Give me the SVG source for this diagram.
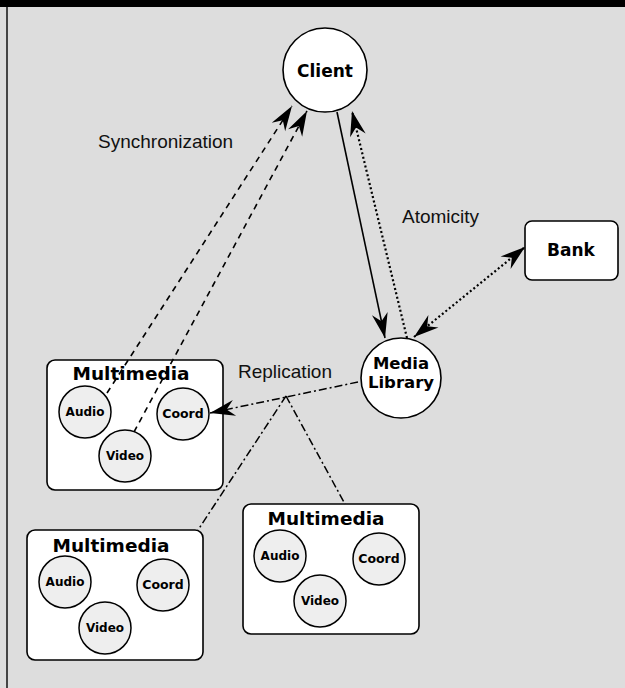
<svg xmlns="http://www.w3.org/2000/svg" width="625" height="688" viewBox="0 0 625 688">
<style>
.bg{fill:#dddddd}
.node{fill:#ffffff;stroke:#000;stroke-width:1.6}
.sub{fill:#eeeeee;stroke:#000;stroke-width:1.5}
.bold{font-family:"DejaVu Sans",sans-serif;font-weight:bold;text-anchor:middle;fill:#000}
.lab{font-family:"Liberation Sans",Arial,sans-serif;font-size:19px;fill:#111}
.c{fill:none;stroke:#000}
.solid{stroke-width:1.6}
.dash{stroke-width:1.6;stroke-dasharray:6 5}
.dot{stroke-width:2.2;stroke-dasharray:2 2.5}
.dashdot{stroke-width:1.5;stroke-dasharray:8 3 2 3}
</style>
<defs>
<marker id="ah" viewBox="-26 -9 27 18" markerWidth="27" markerHeight="18" refX="0" refY="0" markerUnits="userSpaceOnUse" orient="auto-start-reverse">
<path d="M0,0 L-25,-8 L-17,0 L-25,8 Z" fill="#000"/>
</marker>
</defs>
<rect class="bg" x="0" y="0" width="625" height="688"/>
<rect x="0" y="0" width="625" height="7" fill="#000"/>
<line x1="7" y1="7" x2="7" y2="688" stroke="#444" stroke-width="2"/>

<g id="client">
<circle class="node" cx="325" cy="70" r="42"/>
<text class="bold" x="325" y="77" font-size="17">Client</text>
</g>

<g id="bank">
<rect class="node" x="525" y="221" width="93" height="59" rx="7"/>
<text class="bold" x="571" y="256" font-size="17">Bank</text>
</g>

<g id="media-library">
<circle class="node" cx="401" cy="378" r="40"/>
<text class="bold" x="401" y="369" font-size="16.5">Media</text>
<text class="bold" x="401" y="388" font-size="16.5">Library</text>
</g>

<g id="multimedia-1">
<rect class="node" x="47" y="360" width="176" height="130" rx="8"/>
<circle class="sub" cx="85" cy="412" r="26"/>
<circle class="sub" cx="183" cy="414" r="26"/>
<circle class="sub" cx="125" cy="456" r="26"/>
<text class="bold" x="131" y="380" font-size="18.5">Multimedia</text>
<text class="bold" x="85" y="416" font-size="12">Audio</text>
<text class="bold" x="183" y="418" font-size="12.5">Coord</text>
<text class="bold" x="125" y="460" font-size="12">Video</text>
</g>

<g id="multimedia-2">
<rect class="node" x="27" y="530" width="176" height="130" rx="8"/>
<circle class="sub" cx="65" cy="582" r="26"/>
<circle class="sub" cx="163" cy="585" r="26"/>
<circle class="sub" cx="105" cy="628" r="26"/>
<text class="bold" x="111" y="552" font-size="18.5">Multimedia</text>
<text class="bold" x="65" y="586" font-size="12">Audio</text>
<text class="bold" x="163" y="589" font-size="12.5">Coord</text>
<text class="bold" x="105" y="632" font-size="12">Video</text>
</g>

<g id="multimedia-3">
<rect class="node" x="243" y="504" width="176" height="130" rx="8"/>
<circle class="sub" cx="280" cy="556" r="26"/>
<circle class="sub" cx="379" cy="559" r="26"/>
<circle class="sub" cx="320" cy="601" r="26"/>
<text class="bold" x="326" y="525" font-size="18.5">Multimedia</text>
<text class="bold" x="280" y="560" font-size="12">Audio</text>
<text class="bold" x="379" y="563" font-size="12.5">Coord</text>
<text class="bold" x="320" y="605" font-size="12">Video</text>
</g>

<g id="connectors">
<line class="c dash" x1="107" y1="393" x2="292" y2="106" marker-end="url(#ah)"/>
<line class="c dash" x1="134" y1="432" x2="307" y2="111" marker-end="url(#ah)"/>
<line class="c solid" x1="337" y1="112" x2="385" y2="338" marker-end="url(#ah)"/>
<line class="c dot" x1="407" y1="338" x2="352" y2="111" marker-end="url(#ah)"/>
<line class="c dot" x1="414" y1="337" x2="525" y2="247" marker-start="url(#ah)" marker-end="url(#ah)"/>
<line class="c dashdot" x1="358" y1="382" x2="210" y2="413" marker-end="url(#ah)"/>
<line class="c dashdot" x1="286" y1="396" x2="198" y2="530"/>
<line class="c dashdot" x1="286" y1="396" x2="345" y2="504"/>
<text class="lab" x="98" y="148">Synchronization</text>
<text class="lab" x="402" y="223">Atomicity</text>
<text class="lab" x="238" y="378">Replication</text>
</g>
</svg>
